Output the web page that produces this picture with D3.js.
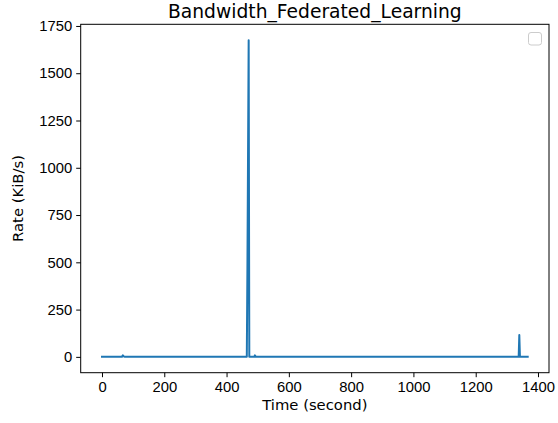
<!DOCTYPE html>
<html>
<head>
<meta charset="utf-8">
<script src="https://cdn.jsdelivr.net/npm/d3@7"></script>
<style>
  body { margin: 0; background: #fff; }
  svg { display: block; font-family: "DejaVu Sans", sans-serif; }
</style>
</head>
<body>
<svg id="chart"></svg>
<script>
// breakpoints of the trace
var times = [0, 64, 67, 69, 72, 80, 465, 467, 471, 473, 486, 489, 491, 494, 1336, 1338, 1340, 1342, 1367];
var rates = [0, 0, 8, 3, 1, 0, 0, 470, 1675, 0, 0, 0, 8, 0, 0, 0, 116, 0, 0];
var xTicks = [0, 200, 400, 600, 800, 1000, 1200, 1400];
var yTicks = [0, 250, 500, 750, 1000, 1250, 1500, 1750];

var width = 558, height = 423;
// plot box (note: "top" is taken by window.top)
var plotLeft = 80.7, plotRight = 549, plotTop = 24.3, plotBottom = 372.7;

var svg = d3.select("#chart").attr("width", width).attr("height", height);

// matplotlib style 5% margins
var xMax = d3.max(times), yMax = d3.max(rates);
var x = d3.scaleLinear().domain([-0.05 * xMax, 1.05 * xMax]).range([plotLeft, plotRight]);
var y = d3.scaleLinear().domain([-0.05 * yMax, 1.05 * yMax]).range([plotBottom, plotTop]);

var data = times.map(function(t, i) { return [t, rates[i]]; });

var line = d3.line()
  .x(function(d) { return x(d[0]); })
  .y(function(d) { return y(d[1]); });

svg.append("path")
  .datum(data)
  .attr("d", line)
  .attr("fill", "none")
  .attr("stroke", "#1f77b4")
  .attr("stroke-width", 2)
  .attr("stroke-linejoin", "round")
  .attr("stroke-linecap", "square");

var xAxis = d3.axisBottom(x).tickValues(xTicks).tickSize(4.5).tickPadding(4).tickFormat(d3.format("d"));
var yAxis = d3.axisLeft(y).tickValues(yTicks).tickSize(4.5).tickPadding(4).tickFormat(d3.format("d"));

var gx = svg.append("g").attr("transform", "translate(0," + plotBottom + ")").call(xAxis);
var gy = svg.append("g").attr("transform", "translate(" + plotLeft + ",0)").call(yAxis);

[gx, gy].forEach(function(g) {
  g.select(".domain").remove();
  g.selectAll(".tick line").attr("stroke", "#000").attr("stroke-width", 1);
  g.selectAll(".tick text").attr("fill", "#000").style("font-size", "14.8px");
});

// frame
svg.append("rect")
  .attr("x", plotLeft).attr("y", plotTop)
  .attr("width", plotRight - plotLeft).attr("height", plotBottom - plotTop)
  .attr("fill", "none").attr("stroke", "#000").attr("stroke-width", 1);

// empty legend
svg.append("rect")
  .attr("x", 528.5).attr("y", 32.5)
  .attr("width", 13).attr("height", 12.5)
  .attr("rx", 2.5)
  .attr("fill", "#fff").attr("stroke", "#ccc").attr("stroke-width", 1);

svg.append("text")
  .attr("x", (plotLeft + plotRight) / 2).attr("y", 18)
  .attr("text-anchor", "middle")
  .style("font-size", "18.7px")
  .text("Bandwidth_Federated_Learning");

svg.append("text")
  .attr("x", (plotLeft + plotRight) / 2).attr("y", 410)
  .attr("text-anchor", "middle")
  .style("font-size", "14.8px")
  .text("Time (second)");

svg.append("text")
  .attr("transform", "translate(23," + (plotTop + plotBottom) / 2 + ") rotate(-90)")
  .attr("text-anchor", "middle")
  .style("font-size", "14.8px")
  .text("Rate (KiB/s)");
</script>
</body>
</html>
